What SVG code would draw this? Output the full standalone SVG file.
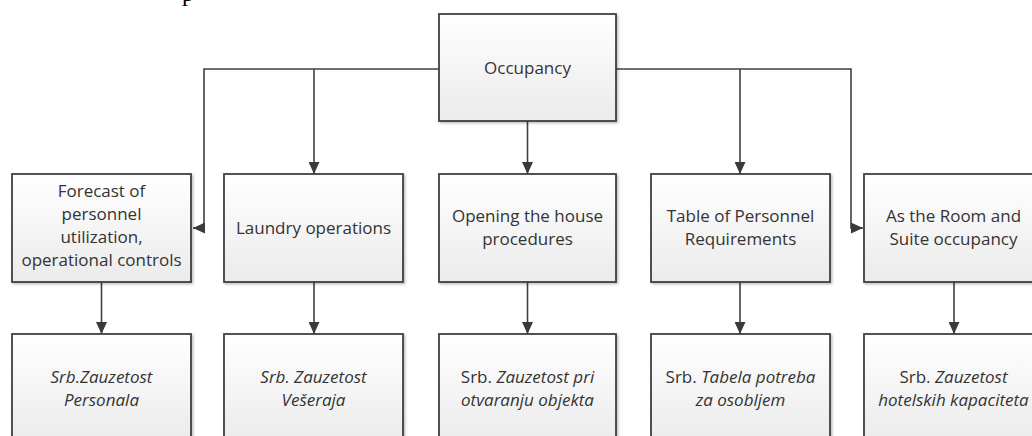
<svg xmlns="http://www.w3.org/2000/svg" width="1032" height="436" viewBox="0 0 1032 436">
  <defs>
    <linearGradient id="boxFill" x1="0" y1="0" x2="0" y2="1">
      <stop offset="0" stop-color="#ffffff"/>
      <stop offset="1" stop-color="#ebebeb"/>
    </linearGradient>
    <filter id="shadow" x="-5%" y="-5%" width="115%" height="115%">
      <feDropShadow dx="1.5" dy="1.5" stdDeviation="1" flood-color="#000" flood-opacity="0.25"/>
    </filter>
    <marker id="arrow" viewBox="0 0 12 11" refX="12" refY="5.5" markerWidth="12" markerHeight="11" markerUnits="userSpaceOnUse" orient="auto">
      <path d="M0,0 L12,5.5 L0,11 z" fill="#3a3a3a"/>
    </marker>
  </defs>
  <style>
    .box { fill: url(#boxFill); stroke: #404040; stroke-width: 1.8; filter: url(#shadow); }
    .lbl { font-family: "Open Sans", "Noto Sans", "DejaVu Sans", sans-serif; font-size: 17px; fill: #333333; text-anchor: middle; }
    .it { font-style: italic; }
    .conn { fill: none; stroke: #404040; stroke-width: 1.6; }
    .frag { font-family: "Liberation Serif", serif; font-size: 24px; fill: #000; }
  </style>

  <!-- cut-off line of text above the chart -->
  <text class="frag" x="182" y="1">p</text>

  <!-- connectors -->
  <g id="connectors">
    <path class="conn" d="M439,69 H204 V228 H193" marker-end="url(#arrow)"/>
    <path class="conn" d="M314,69 V174" marker-end="url(#arrow)"/>
    <path class="conn" d="M527.5,121 V174" marker-end="url(#arrow)"/>
    <path class="conn" d="M616,69 H851 V228 H863" marker-end="url(#arrow)"/>
    <path class="conn" d="M740,69 V174" marker-end="url(#arrow)"/>
    <path class="conn" d="M101.5,282 V334" marker-end="url(#arrow)"/>
    <path class="conn" d="M314,282 V334" marker-end="url(#arrow)"/>
    <path class="conn" d="M527.5,282 V334" marker-end="url(#arrow)"/>
    <path class="conn" d="M740,282 V334" marker-end="url(#arrow)"/>
    <path class="conn" d="M954,282 V334" marker-end="url(#arrow)"/>
  </g>

  <!-- root -->
  <g id="occupancy">
    <rect class="box" x="439" y="14" width="177" height="107"/>
    <text class="lbl" x="527.5" y="74">Occupancy</text>
  </g>

  <!-- first level -->
  <g id="forecast">
    <rect class="box" x="12" y="174" width="179" height="108"/>
    <text class="lbl" x="101.5" y="197">Forecast of</text>
    <text class="lbl" x="101.5" y="220">personnel</text>
    <text class="lbl" x="101.5" y="243">utilization,</text>
    <text class="lbl" x="101.5" y="266">operational controls</text>
  </g>
  <g id="laundry">
    <rect class="box" x="224" y="174" width="179" height="108"/>
    <text class="lbl" x="313.5" y="234">Laundry operations</text>
  </g>
  <g id="opening">
    <rect class="box" x="439" y="174" width="177" height="108"/>
    <text class="lbl" x="527.5" y="222">Opening the house</text>
    <text class="lbl" x="527.5" y="245">procedures</text>
  </g>
  <g id="table">
    <rect class="box" x="651" y="174" width="179" height="108"/>
    <text class="lbl" x="740.5" y="222">Table of Personnel</text>
    <text class="lbl" x="740.5" y="245">Requirements</text>
  </g>
  <g id="room-suite">
    <rect class="box" x="864" y="174" width="179" height="108"/>
    <text class="lbl" x="953.5" y="222">As the Room and</text>
    <text class="lbl" x="953.5" y="245">Suite occupancy</text>
  </g>

  <!-- second level -->
  <g id="srb-personala">
    <rect class="box" x="12" y="334" width="179" height="108"/>
    <text class="lbl it" x="101.5" y="383">Srb.Zauzetost</text>
    <text class="lbl it" x="101.5" y="406">Personala</text>
  </g>
  <g id="srb-veseraja">
    <rect class="box" x="224" y="334" width="179" height="108"/>
    <text class="lbl it" x="313.5" y="383">Srb. Zauzetost</text>
    <text class="lbl it" x="313.5" y="406">Vešeraja</text>
  </g>
  <g id="srb-otvaranje">
    <rect class="box" x="439" y="334" width="177" height="108"/>
    <text class="lbl" x="527.5" y="383">Srb. <tspan class="it">Zauzetost pri</tspan></text>
    <text class="lbl it" x="527.5" y="406">otvaranju objekta</text>
  </g>
  <g id="srb-tabela">
    <rect class="box" x="651" y="334" width="179" height="108"/>
    <text class="lbl" x="740.5" y="383">Srb. <tspan class="it">Tabela potreba</tspan></text>
    <text class="lbl it" x="740.5" y="406">za osobljem</text>
  </g>
  <g id="srb-kapaciteti">
    <rect class="box" x="864" y="334" width="179" height="108"/>
    <text class="lbl" x="953.5" y="383">Srb. <tspan class="it">Zauzetost</tspan></text>
    <text class="lbl it" x="953.5" y="406">hotelskih kapaciteta</text>
  </g>
</svg>
